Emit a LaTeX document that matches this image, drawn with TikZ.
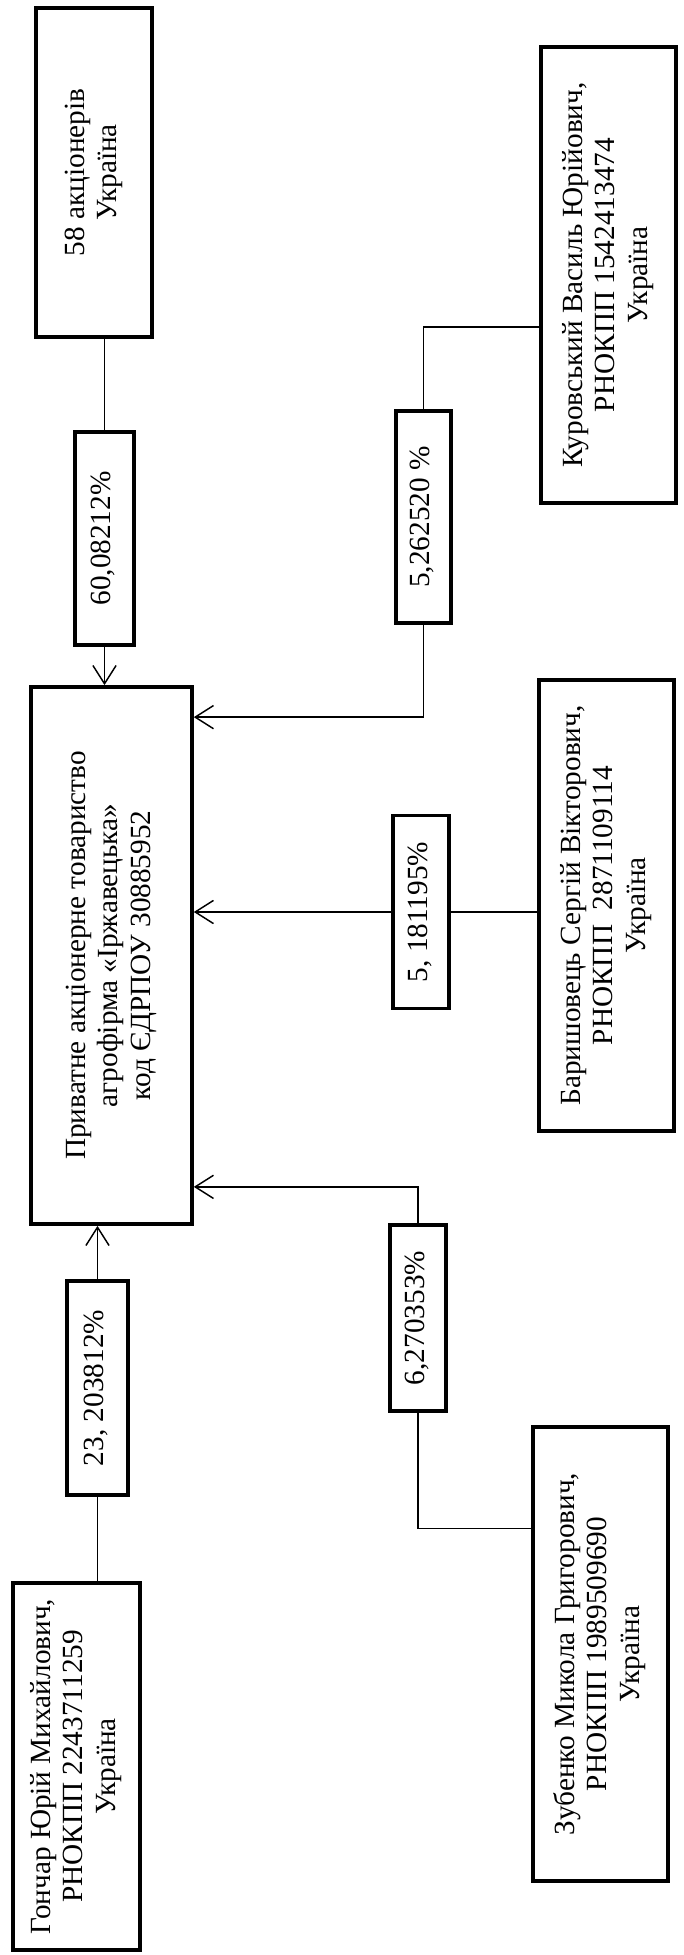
\documentclass[tikz,border=0pt]{standalone}
\usepackage{fontspec}
\setmainfont{Liberation Serif}
\usepackage{graphicx}
\usetikzlibrary{arrows.meta,positioning,calc}

\newcommand{\vtext}[1]{\rotatebox{90}{\begin{tabular}{@{}c@{}}#1\end{tabular}}}

\begin{document}
\begin{tikzpicture}[
    x=0.41pt, y=-0.41pt,
    font=\fontsize{12}{13.2}\selectfont,
    box/.style={rectangle, draw, line width=1.5pt, inner sep=0pt, align=center},
    share/.style={box, minimum width=23pt},
    link/.style={line width=0.6pt},
    arrow/.style={link, -{Straight Barb[length=7.5pt,width=9.5pt]}}
]
    \useasboundingbox (0,0) rectangle (684,1955);

    % Company
    \node[box, minimum width=66pt, minimum height=220.2pt] (main) at (111.5,955.5) {\vtext{Приватне акціонерне товариство\\агрофірма «Іржавецька»\\код ЄДРПОУ 30885952}};

    % Owners
    \node[box, minimum width=47.6pt, minimum height=134.9pt] (holders) at (94,172.5) {\vtext{58 акціонерів\\Україна}};
    \node[box, minimum width=55.4pt, minimum height=187pt] (kur) at (608.5,275) {\vtext{Куровський Василь Юрійович,\\РНОКПП 1542413474\\Україна}};
    \node[box, minimum width=55.4pt, minimum height=184.9pt] (bar) at (606.5,905.5) {\vtext{Баришовець Сергій Вікторович,\\РНОКПП~ 2871109114\\Україна}};
    \node[box, minimum width=52.1pt, minimum height=150.5pt] (gon) at (76.5,1766.5) {\vtext{Гончар Юрій Михайлович,\\РНОКПП 2243711259\\Україна}};
    \node[box, minimum width=55.4pt, minimum height=186.1pt] (zub) at (600.5,1654) {\vtext{Зубенко Микола Григорович,\\РНОКПП 1989509690\\Україна}};

    % Shares
    \node[share, minimum width=24.2pt, minimum height=87.3pt] (p60) at (104.5,538.5) {\vtext{60,08212\%}};
    \node[share, minimum width=22.6pt, minimum height=86.9pt] (p526) at (423.5,517) {\vtext{5,262520 \%}};
    \node[share, minimum height=79.1pt] (p518) at (421,912) {\vtext{5, 181195\%}};
    \node[share, minimum width=25pt, minimum height=87.7pt] (p23) at (97.5,1388) {\vtext{23, 203812\%}};
    \node[share, minimum height=76.3pt] (p627) at (418,1318) {\vtext{6,270353\%}};

    % Links
    \coordinate (kurin) at ($(kur.north west)+(0,282)$);
    \coordinate (zubin) at ($(zub.north west)+(0,103)$);

    \draw[link] (holders.south -| p60.north) -- (p60.north);
    \draw[arrow] (p60.south) -- (p60.south |- main.north);

    \draw[link] (kurin) -| (p526.north);
    \draw[arrow] (p526.south) |- ($(main.north east)+(0,32)$);

    \draw[link] (bar.west |- p518.east) -- (p518.east);
    \draw[arrow] (p518.west) -- (p518.west -| main.east);

    \draw[link] (zubin) -| (p627.south);
    \draw[arrow] (p627.north) |- ($(main.south east)+(0,-39)$);

    \draw[link] (gon.north -| p23.south) -- (p23.south);
    \draw[arrow] (p23.north) -- (p23.north |- main.south);
\end{tikzpicture}
\end{document}
